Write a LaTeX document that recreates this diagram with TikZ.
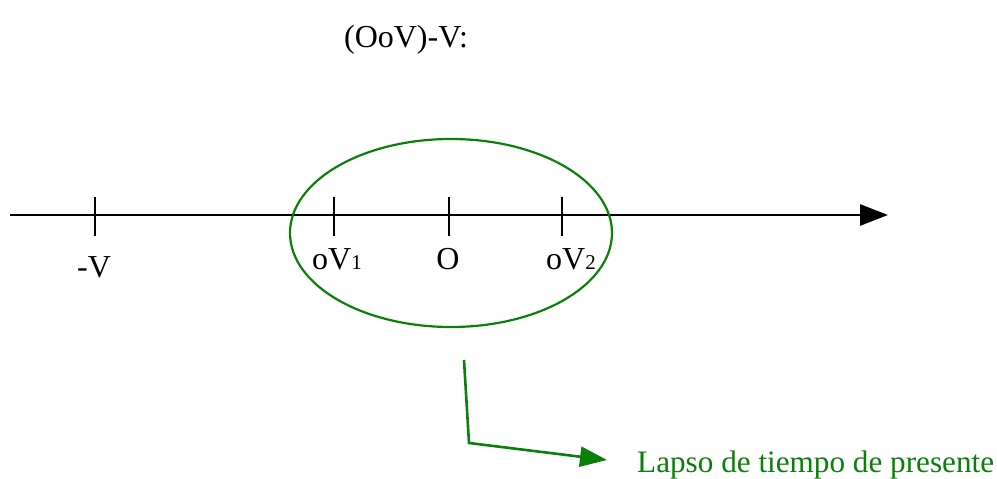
\documentclass[tikz,border=0pt]{standalone}
\usepackage{fontspec}
\setmainfont{Liberation Serif}
\usetikzlibrary{arrows.meta,shapes.geometric}
\definecolor{lgreen}{RGB}{10,128,10}
\begin{document}
\begin{tikzpicture}[x=1pt,y=-1pt,
  lbl/.style={inner sep=0pt,anchor=base,font=\fontsize{32}{32}\selectfont},
  tickmark/.style={line width=2.8pt},
  axis/.style={line width=2.8pt,-{Triangle[length=28pt,width=21pt]}},
  gline/.style={draw=lgreen,line width=2.6pt}]
\useasboundingbox (0,0) rectangle (997,479);
% title
\node[lbl] (title) at (406,47) {(OoV)-V:};
% axis
\coordinate (axL) at (10,215);
\coordinate (axR) at (888,215);
\draw[axis] (axL) -- (axR);
% ticks
\foreach \n/\x in {tV/95,tA/334,tO/449,tB/562}{
  \coordinate (\n top) at (\x,197);
  \coordinate (\n bot) at (\x,236);
  \draw[tickmark] (\n top) -- (\n bot);
}
% labels
\node[lbl] (lV) at (94,277) {-V};
\node[lbl] (lA) at (337,269) {oV{\fontsize{21}{21}\selectfont 1}};
\node[lbl] (lO) at (448,269) {O};
\node[lbl] (lB) at (571,269) {oV{\fontsize{21}{21}\selectfont 2}};
% ellipse
\node[ellipse,draw=lgreen,line width=2.2pt,minimum width=322pt,minimum height=188pt,inner sep=0pt] (ell) at (451,233) {};
% connector
\coordinate (cS) at (464,360);
\coordinate (cC) at (469,443);
\node[lbl,anchor=base west,text=lgreen,font=\fontsize{31.2}{31.2}\selectfont] (lapso) at (637,472) {Lapso de tiempo de presente};
\coordinate (cT) at (607,460);
\draw[gline,-{Triangle[length=27pt,width=20pt]}] (cS) -- (cC) -- (cT);
\end{tikzpicture}
\end{document}
